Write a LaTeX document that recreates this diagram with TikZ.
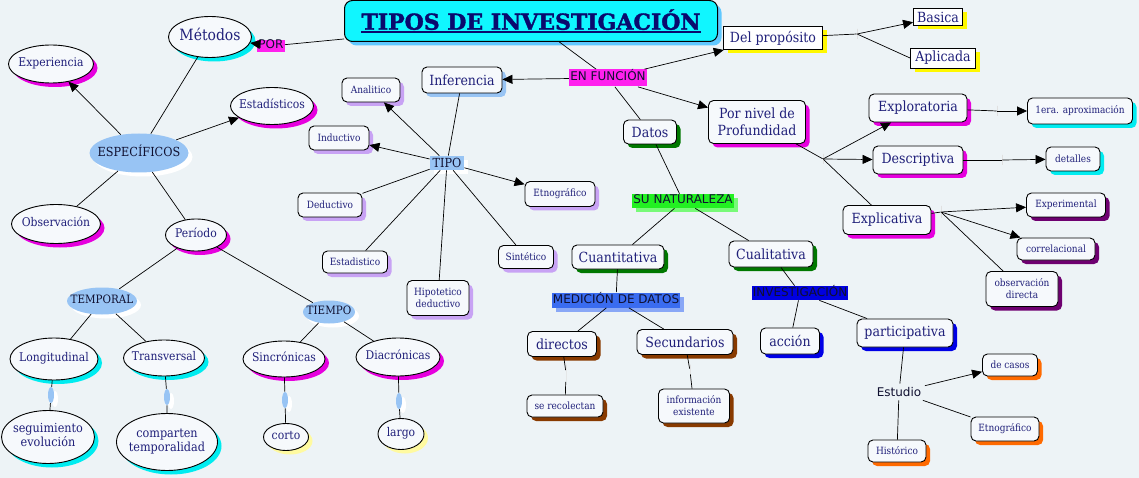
\documentclass[tikz,border=0pt]{standalone}
\usepackage{fontspec}
\setmainfont[FakeStretch=0.9]{DejaVu Serif}
\setsansfont{DejaVu Sans}
\newfontfamily\titlefont[BoldFeatures={FakeBold=1.6}]{DejaVu Serif}
\usepackage{tikz}
\usetikzlibrary{arrows.meta, shapes.geometric, shadows}
\definecolor{paper}{RGB}{237,243,246}
\definecolor{boxfill}{RGB}{246,249,252}
\definecolor{navy}{RGB}{32,32,122}
\definecolor{ink}{RGB}{16,16,48}
\definecolor{titlenavy}{RGB}{10,10,110}
\definecolor{skyblue}{RGB}{152,196,244}
\definecolor{lilac}{RGB}{200,162,244}
\definecolor{fuchsia}{RGB}{230,0,222}
\definecolor{aqua}{RGB}{0,236,240}
\definecolor{lemon}{RGB}{255,248,0}
\definecolor{cream}{RGB}{255,250,160}
\definecolor{leaf}{RGB}{0,120,0}
\definecolor{rust}{RGB}{136,58,0}
\definecolor{plum}{RGB}{110,0,112}
\definecolor{royal}{RGB}{0,0,230}
\definecolor{tangerine}{RGB}{255,106,0}
\definecolor{titlecyan}{RGB}{16,246,255}
\definecolor{titleshade}{RGB}{96,200,255}
\definecolor{tagpink}{RGB}{255,32,238}
\definecolor{taggreen}{RGB}{34,240,34}
\definecolor{mint}{RGB}{120,250,120}
\definecolor{tagblue}{RGB}{58,108,240}
\definecolor{tagdeep}{RGB}{0,0,224}

\newcommand{\fsm}{\fontsize{10}{12}\selectfont}
\newcommand{\fmd}{\fontsize{12}{14}\selectfont}
\newcommand{\fbg}{\fontsize{14}{17}\selectfont}
\newcommand{\ovl}[1]{\makebox[0pt]{\begin{tabular}{@{}c@{}}#1\end{tabular}}}
\newcommand{\thickul}[1]{\setbox0=\hbox{#1}\rlap{\rule[-3pt]{\wd0}{1.7pt}}\box0}

\begin{document}
\begin{tikzpicture}[x=1pt,y=-1pt,line width=0.7pt,
    >={Triangle[length=10pt,width=9pt]},
    every node/.style={text=navy},
    sh/.style={drop shadow={shadow xshift=4pt,shadow yshift=-4pt,fill=#1,opacity=1}},
    ov/.style 2 args={ellipse,draw,line width=0.9pt,fill=boxfill,inner sep=0pt,
                      minimum width=#1pt,minimum height=#2pt,font=\fmd},
    rb/.style 2 args={rectangle,rounded corners=5pt,draw,line width=0.9pt,fill=boxfill,
                      inner sep=1pt,minimum width=#1pt,minimum height=#2pt,align=center,font=\fsm},
    sq/.style 2 args={rectangle,draw,line width=0.9pt,fill=white,sh=lemon,inner sep=1pt,
                      minimum width=#1pt,minimum height=#2pt,font=\fbg},
    blob/.style 2 args={ellipse,fill=skyblue,sh=white,text=ink,inner sep=0pt,
                        minimum width=#1pt,minimum height=#2pt,font=\fmd},
    tag/.style={rectangle,fill=#1,text=ink,font=\sffamily\fmd,inner xsep=1pt,inner ysep=0pt,
                text height=9pt,text depth=3pt},
    pill/.style={ellipse,fill=skyblue,sh=white,inner sep=0pt,minimum width=6pt,minimum height=16pt},
    jn/.style={draw=black!12,line width=0.8pt,inner sep=0pt,minimum width=0pt,minimum height=#1pt},
    heading/.style={rectangle,rounded corners=8pt,draw,line width=1pt,fill=titlecyan,sh=titleshade,
                    font=\titlefont\bfseries\fontsize{22}{26}\selectfont,text=titlenavy}]

  \fill[paper] (0,0) rectangle (1139,478);
  \useasboundingbox (0,0) rectangle (1139,478);

  \node[heading,minimum width=373pt,minimum height=41pt] (tit) at (531,21)
       {\thickul{TIPOS DE INVESTIGACIÓN}};

  % left: metodos and periodo
  \node[ov={83}{41},sh=aqua,font=\fontsize{15.5}{18}\selectfont] (met) at (210,37) {\ovl{Métodos}};
  \node[tag=tagpink,minimum height=12pt] (por) at (271,46) {POR};
  \node[ov={85}{38},sh=fuchsia] (expe) at (51,64) {\ovl{Experiencia}};
  \node[blob={99}{39},font=\fontsize{12.5}{15}\selectfont] (esp) at (139,153) {\ovl{ESPECÍFICOS}};
  \node[ov={83}{37},sh=fuchsia] (esta) at (272,106) {\ovl{Estadísticos}};
  \node[ov={89}{39},sh=fuchsia] (obs) at (56,224) {\ovl{Observación}};
  \node[ov={61}{32},sh=fuchsia] (per) at (196,235) {\ovl{Período}};
  \node[blob={70}{27},font=\fontsize{11.5}{14}\selectfont] (tmp) at (102,301) {\ovl{TEMPORAL}};
  \node[blob={52}{23},font=\fontsize{11.5}{14}\selectfont] (tie) at (329,312) {\ovl{TIEMPO}};
  \node[ov={88}{42},sh=aqua] (lon) at (54,359) {\ovl{Longitudinal}};
  \node[ov={81}{36},sh=aqua] (tra) at (164,358) {\ovl{Transversal}};
  \node[ov={82}{36},sh=fuchsia] (sin) at (284,359) {\ovl{Sincrónicas}};
  \node[ov={84}{38},sh=fuchsia] (dia) at (398,357) {\ovl{Diacrónicas}};
  \node[pill] (p1) at (51,395) {};
  \node[pill] (p2) at (167,397) {};
  \node[pill] (p3) at (285,400) {};
  \node[pill] (p4) at (399,401) {};
  \node[ov={93}{53},sh=aqua,font=\fontsize{12.5}{14}\selectfont] (seg) at (48,437)
       {\ovl{seguimiento\\evolución}};
  \node[ov={101}{57},sh=aqua,font=\fontsize{12.5}{14}\selectfont] (com) at (167,442)
       {\ovl{comparten\\temporalidad}};
  \node[ov={45}{27},sh=cream] (cor) at (286,437) {\ovl{corto}};
  \node[ov={46}{31},sh=cream] (lar) at (401,434) {\ovl{largo}};

  % middle: tipo
  \node[rb={80}{26},sh=skyblue,font=\fbg] (inf) at (462,80) {Inferencia};
  \node[rb={58}{24},sh=lilac] (ana) at (371,90) {Analitico};
  \node[rb={60}{24},sh=lilac] (ind) at (339,138) {Inductivo};
  \node[rectangle,fill=skyblue,sh=white,text=ink,inner sep=0pt,minimum width=34pt,
        minimum height=14pt,font=\fontsize{12.5}{14}\selectfont] (tipo) at (447,163) {TIPO};
  \node[rb={64}{24},sh=lilac] (ded) at (330,205) {Deductivo};
  \node[rb={70}{25},sh=lilac] (etno) at (560,194) {Etnográfico};
  \node[rb={65}{22},sh=lilac] (estd) at (355,262) {Estadistico};
  \node[rb={55}{23},sh=lilac] (sint) at (526,257) {Sintético};
  \node[rb={62}{35},sh=lilac] (hip) at (438,298) {Hipotetico\\deductivo};
  \node[tag=tagpink,minimum height=17pt] (enf) at (608,78) {EN FUNCIÓN};

  % right: proposito, profundidad, datos
  \node[sq={99}{23}] (dpr) at (773,38) {Del propósito};
  \node[sq={49}{17}] (bas) at (938,17) {Basica};
  \node[sq={65}{20}] (apl) at (943,58) {Aplicada};
  \node[jn=10] (jdp) at (857,34) {};
  \node[rb={97}{43},sh=fuchsia,font=\fbg] (pnv) at (757,122) {Por nivel de\\Profundidad};
  \node[rb={53}{24},sh=leaf,font=\fbg] (dat) at (650,132) {Datos};
  \node[jn=10] (jpn) at (823,159) {};
  \node[rb={98}{28},sh=fuchsia,font=\fbg] (exr) at (918,108) {Exploratoria};
  \node[rb={90}{28},sh=fuchsia,font=\fbg] (dsc) at (918,160) {Descriptiva};
  \node[rb={88}{29},sh=fuchsia,font=\fbg] (exl) at (887,220) {Explicativa};
  \node[jn=10] (jer) at (997,111) {};
  \node[rb={105}{26},sh=aqua] (apr) at (1080,111) {1era. aproximación};
  \node[jn=10] (jds) at (1002,160) {};
  \node[rb={54}{24},sh=aqua] (det) at (1073,159) {detalles};
  \node[jn=12] (jxl) at (941,212) {};
  \node[rb={79}{24},sh=plum] (xpm) at (1066,205) {Experimental};
  \node[rb={78}{22},sh=plum] (crr) at (1056,249) {correlacional};
  \node[rb={72}{35},sh=plum] (obd) at (1022,289) {observación\\directa};
  \node[tag=taggreen,sh=mint,minimum height=14pt] (nat) at (683,201) {SU NATURALEZA};
  \node[rb={92}{24},sh=leaf,font=\fbg] (cnt) at (618,257) {Cuantitativa};
  \node[rb={84}{26},sh=leaf,font=\fbg] (cul) at (771,254) {Cualitativa};
  \node[tag=tagblue,sh=tagblue!60!white,minimum height=15pt] (med) at (616,300) {MEDICIÓN DE DATOS};
  \node[rb={69}{25},sh=rust,font=\fbg] (dir) at (562,344) {directos};
  \node[rb={96}{25},sh=rust,font=\fbg] (sec) at (685,342) {Secundarios};
  \node[jn=17] (jdi) at (566,373) {};
  \node[jn=13] (jsc) at (690,371) {};
  \node[rb={76}{22},sh=rust] (rec) at (565,406) {se recolectan};
  \node[rb={71}{34},sh=rust] (inx) at (694,406) {información\\existente};
  \node[tag=tagdeep,minimum height=14pt] (inv) at (800,293) {INVESTIGACIÓN};
  \node[rb={59}{26},sh=royal,font=\fbg] (acc) at (790,341) {acción};
  \node[rb={96}{28},sh=royal,font=\fbg] (par) at (905,333) {participativa};
  \node[text=ink,font=\sffamily\fmd] (estu) at (899,392) {Estudio};
  \node[rb={55}{22},sh=tangerine] (cas) at (1010,365) {de casos};
  \node[rb={68}{24},sh=tangerine] (etn2) at (1005,429) {Etnográfico};
  \node[rb={58}{22},sh=tangerine] (his) at (897,451) {Histórico};

  \draw (tit) -- (por);
  \draw[->] (por) -- (met);
  \draw[->] (esp) -- (expe);
  \draw (esp) -- (met);
  \draw[->] (esp) -- (esta);
  \draw (esp) -- (obs);
  \draw (esp) -- (per);
  \draw (per) -- (tmp);
  \draw (per) -- (tie);
  \draw (tmp) -- (lon);
  \draw (tmp) -- (tra);
  \draw (tie) -- (sin);
  \draw (tie) -- (dia);
  \draw (lon) -- (p1) -- (seg);
  \draw (tra) -- (p2) -- (com);
  \draw (sin) -- (p3) -- (cor);
  \draw (dia) -- (p4) -- (lar);

  \draw (tit) -- (enf);
  \draw[->] (enf) -- (inf);
  \draw[->] (enf) -- (dpr);
  \draw[->] (enf) -- (pnv);
  \draw (enf) -- (dat);
  \draw (inf) -- (tipo);
  \draw[->] (tipo) -- (ana);
  \draw[->] (tipo) -- (ind);
  \draw (tipo) -- (ded);
  \draw (tipo) -- (estd);
  \draw (tipo) -- (hip);
  \draw (tipo) -- (sint);
  \draw[->] (tipo) -- (etno);

  \draw (dpr) -- (jdp);
  \draw[->] (jdp) -- (bas);
  \draw (jdp) -- (apl.west);
  \draw (pnv) -- (jpn);
  \draw[->] (jpn) -- (exr);
  \draw[->] (jpn) -- (dsc);
  \draw (jpn) -- (exl);
  \draw (exr) -- (jer);
  \draw[->] (jer) -- (apr);
  \draw (dsc) -- (jds);
  \draw[->] (jds) -- (det);
  \draw (exl) -- (jxl);
  \draw[->] (jxl) -- (xpm);
  \draw[->] (jxl) -- (crr);
  \draw (jxl) -- (obd);

  \draw (dat) -- (nat);
  \draw (nat) -- (cnt);
  \draw (nat) -- (cul);
  \draw (cnt) -- (med);
  \draw (med) -- (dir);
  \draw (med) -- (sec);
  \draw (dir) -- (jdi) -- (rec);
  \draw (sec) -- (jsc) -- (inx);
  \draw (cul) -- (inv);
  \draw (inv) -- (acc);
  \draw (inv) -- (par);
  \draw (par) -- (estu);
  \draw[->] (estu) -- (cas);
  \draw (estu) -- (etn2);
  \draw (estu) -- (his);
\end{tikzpicture}
\end{document}
